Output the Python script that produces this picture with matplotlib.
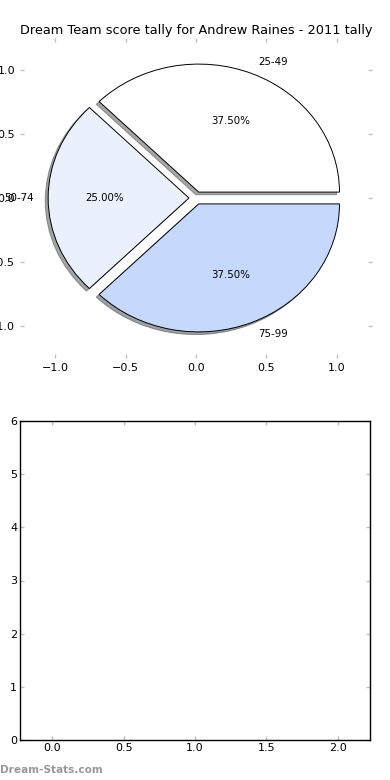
import numpy as np
from matplotlib import pyplot as plt

# score bands and how many games fell in each
labels = ['25-49', '50-74', '75-99']
counts = [3, 2, 3]
colours = ['#ffffff', '#eaf1fd', '#c6d9fd']
explode = [0.05, 0.05, 0.05]

title = 'Dream Team score tally for Andrew Raines - 2011 tally'
pie_ticks = [-1.0, -0.5, 0.0, 0.5, 1.0]
bar_xticks = [0.0, 0.5, 1.0, 1.5, 2.0]
bar_yticks = [0, 1, 2, 3, 4, 5, 6]

plt.rcParams['font.size'] = 8
tick_grey = '#c0c0c0'

fig = plt.figure(figsize=(3.9, 7.8), dpi=100)

#=====================================================
# top: the pie, old style (no frame, stretched, grey ticks)
ax1 = fig.add_axes([20/390, 1 - 358/780, 352/390, 320/780])
ax1.pie(counts, labels=labels, colors=colours, explode=explode,
		autopct='%1.2f%%', shadow={'ox': -0.015, 'oy': -0.015},
		startangle=0,
		wedgeprops=dict(edgecolor='black', linewidth=0.7),
		textprops=dict(fontsize=7.4))
ax1.set_aspect('auto')
ax1.set_frame_on(False)
ax1.set_xlim(-1.25, 1.25)
ax1.set_ylim(-1.25, 1.25)
ax1.set_xticks(pie_ticks)
ax1.set_yticks(pie_ticks)
ax1.tick_params(direction='in', length=3, color=tick_grey, width=1,
				top=True, right=True, labelsize=8)
ax1.set_title(title, fontsize=9.3, pad=3)

#=====================================================
# bottom: empty second panel
ax2 = fig.add_axes([20/390, 40/780, 350/390, 319/780])
ax2.set_xlim(-0.225, 2.225)
ax2.set_ylim(0, 6)
ax2.set_xticks(bar_xticks)
ax2.set_yticks(bar_yticks)
ax2.tick_params(direction='in', length=3, color=tick_grey, width=1,
				top=True, right=True, labelsize=8, pad=2)
for sp in ax2.spines.values():
	sp.set_linewidth(1)

fig.text(0.0, 10/780, 'Dream-Stats.com', color='#999999', fontsize=7.6,
		 fontweight='bold', ha='left', va='center')

fig.savefig('out.png', dpi=100)
